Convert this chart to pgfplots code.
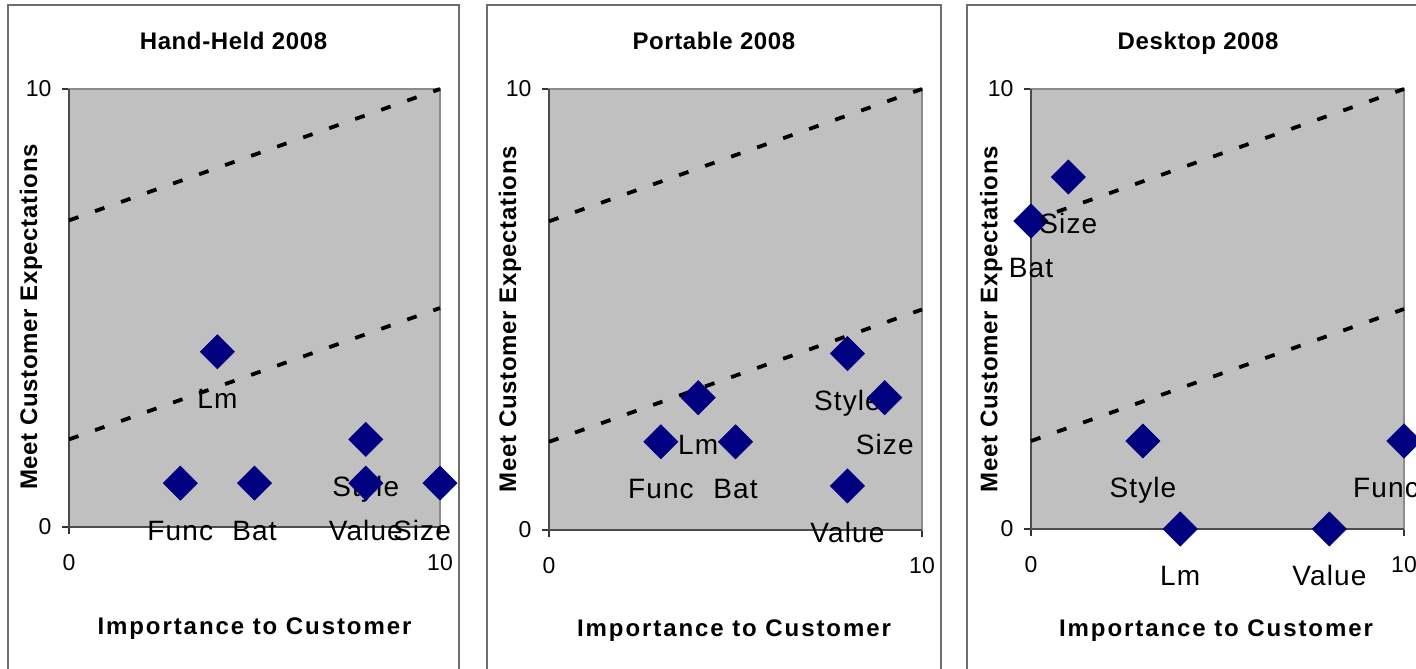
\documentclass[border=0pt]{standalone}
\usepackage{fontspec}
\setmainfont{Liberation Sans}
\newfontfamily\titlefont[LetterSpace=2.5]{Liberation Sans}
\newfontfamily\xlabfont[LetterSpace=8]{Liberation Sans}
\newfontfamily\ylabfont[LetterSpace=3]{Liberation Sans}
\newfontfamily\pointfont[LetterSpace=4]{Liberation Sans}
\usepackage{pgfplots}
\usepackage{pgfplotstable}
\pgfplotsset{compat=1.18}

\definecolor{plotgray}{HTML}{C0C0C0}
\definecolor{marknavy}{HTML}{000080}
\definecolor{framegray}{HTML}{6E6E6E}
\definecolor{bordergray}{HTML}{8C8C8C}

% importance (x), expectation (y), feature, label nudge (pt)
\pgfplotstableread{
x y label dx
3 1 Func 0
4 4 Lm 0
5 1 Bat 0
8 2 Style 0
8 1 Value 0
10 1 Size -9
}\handheld

\pgfplotstableread{
x y label dx
3 2 Func 0
4 3 Lm 0
5 2 Bat 0
8 4 Style 0
9 3 Size 0
8 1 Value 0
}\portable

\pgfplotstableread{
x y label dx
0 7 Bat 0
1 8 Size 0
3 2 Style 0
4 0 Lm 0
8 0 Value 0
10 2 Func -9
}\desktop

\pgfplotsset{
  quadrant/.style={
    scale only axis,
    xmin=0, xmax=10, ymin=0, ymax=10,
    xtick={0,10}, ytick={0,10},
    tick pos=left,
    tick align=outside,
    major tick length=3.5pt,
    tick style={black!80, line width=0.7pt},
    axis line style={draw=bordergray, line width=0.6pt},
    axis background/.style={fill=plotgray},
    clip=false,
    /pgf/number format/assume math mode=true,
    tick label style={font=\fontsize{11.5pt}{13pt}\selectfont},
    xticklabel style={yshift=-6.5pt},
    yticklabel style={xshift=-1.8pt},
    every axis title shift=0pt,
    title style={font=\titlefont\bfseries\fontsize{12pt}{14pt}\selectfont, anchor=center},
    xlabel style={font=\xlabfont\bfseries\fontsize{12pt}{14pt}\selectfont, anchor=center},
    ylabel style={font=\ylabfont\bfseries\fontsize{12pt}{14pt}\selectfont, anchor=center},
    xlabel={Importance to Customer},
    ylabel={Meet Customer Expectations},
  },
  band/.style={black, line width=1.9pt, dash pattern=on 5pt off 8.8pt, forget plot},
  features/.style={
    only marks,
    mark=square*,
    mark size=6pt,
    mark options={rotate=45, fill=marknavy, draw=marknavy},
    nodes near coords,
    point meta=explicit symbolic,
    visualization depends on={\thisrow{dx} \as \labeldx},
    every node near coord/.append style={
      font=\pointfont\fontsize{14pt}{16pt}\selectfont, text=black,
      anchor=base, yshift=-28.5pt, xshift=\labeldx pt, inner sep=0pt},
  },
}

\newcommand{\axisedges}{%
  \draw[black!70, line width=0.9pt] (rel axis cs:0,1) -- (rel axis cs:0,0) -- (rel axis cs:1,0);}

\begin{document}
\begin{tikzpicture}
\useasboundingbox (0,0) rectangle (708pt,334pt);
\clip (0,0) rectangle (708pt,334pt);
\fill[white] (0,0) rectangle (708pt,334pt);

% chart area frames
\draw[framegray, line width=0.75pt] (4pt,-10pt) rectangle (229.5pt,331.5pt);
\draw[framegray, line width=0.75pt] (243.5pt,-10pt) rectangle (470.5pt,331.5pt);
\draw[framegray, line width=0.75pt] (483.5pt,-10pt) rectangle (730pt,331.5pt);

% Hand-Held
\begin{axis}[quadrant,
  at={(34.5pt,70.5pt)}, anchor=south west,
  width=185.5pt, height=219pt,
  title={Hand-Held 2008},
  title style={at={(axis description cs:0.4434,1.1096)}},
  xlabel style={at={(axis description cs:0.5,-0.233)}},
  ylabel style={at={(axis description cs:-0.1024,0.4795)}},
]
\axisedges
\addplot[band] coordinates {(0,7) (10,10)};
\addplot[band] coordinates {(0,2) (10,5)};
\addplot[features] table[x=x, y=y, meta=label] {\handheld};
\end{axis}

% Portable
\begin{axis}[quadrant,
  at={(274.5pt,69pt)}, anchor=south west,
  width=186.5pt, height=220.5pt,
  title={Portable 2008},
  title style={at={(axis description cs:0.442,1.109)}},
  xlabel style={at={(axis description cs:0.496,-0.228)}},
  ylabel style={at={(axis description cs:-0.1046,0.478)}},
]
\axisedges
\addplot[band] coordinates {(0,7) (10,10)};
\addplot[band] coordinates {(0,2) (10,5)};
\addplot[features] table[x=x, y=y, meta=label] {\portable};
\end{axis}

% Desktop
\begin{axis}[quadrant,
  at={(515.5pt,69.5pt)}, anchor=south west,
  width=186.5pt, height=220pt,
  title={Desktop 2008},
  title style={at={(axis description cs:0.448,1.104)}},
  xlabel style={at={(axis description cs:0.496,-0.232)}},
  ylabel style={at={(axis description cs:-0.107,0.477)}},
]
\axisedges
\addplot[band] coordinates {(0,7) (10,10)};
\addplot[band] coordinates {(0,2) (10,5)};
\addplot[features] table[x=x, y=y, meta=label] {\desktop};
\end{axis}
\end{tikzpicture}
\end{document}
